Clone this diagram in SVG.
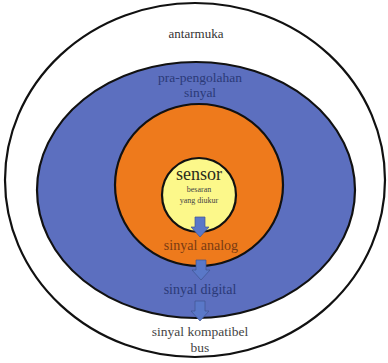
<svg xmlns="http://www.w3.org/2000/svg" width="388" height="363" viewBox="0 0 388 363">
<style>
.ring{stroke:#111;stroke-width:2.2}
text{font-family:'Liberation Serif','Times New Roman','DejaVu Serif',serif;text-anchor:middle}
.arr{fill:#5a78c8;stroke:#3f5590;stroke-width:0.7}
</style>
<defs>
<path id="arrow" d="M-5,0 H5 V10 H9 L0,20 L-9,10 H-5 Z"/>
</defs>
<rect width="388" height="363" fill="#fff"/>
<g id="antarmuka">
<ellipse class="ring" cx="195" cy="180" rx="190" ry="177" fill="#fff"/>
<text x="196" y="38" font-size="13" fill="#333" font-family="Liberation Serif, serif">antarmuka</text>
</g>
<g id="pra-pengolahan">
<ellipse class="ring" cx="196" cy="190" rx="159" ry="128" fill="#5c6fbf"/>
<text x="200" y="82" font-size="13.5" fill="#2b3a78" font-family="Liberation Serif, serif">pra-pengolahan</text>
<text x="200" y="97" font-size="13.5" fill="#2b3a78" font-family="Liberation Serif, serif">sinyal</text>
</g>
<g id="analog">
<ellipse class="ring" cx="199" cy="185" rx="84" ry="81" fill="#ee7a1c"/>
</g>
<g id="sensor">
<circle class="ring" cx="199" cy="195" r="37" fill="#fcf88a"/>
<text x="199" y="180" font-size="18" fill="#2a2a1a" font-family="Liberation Serif, serif">sensor</text>
<text x="199" y="192" font-size="8" fill="#444" font-family="Liberation Serif, serif">besaran</text>
<text x="199" y="203" font-size="8" fill="#444" font-family="Liberation Serif, serif">yang diukur</text>
</g>
<g id="connectors">
<use href="#arrow" class="arr" x="200" y="217"/>
<use href="#arrow" class="arr" x="201" y="260"/>
<use href="#arrow" class="arr" x="200" y="301"/>
</g>
<g id="labels">
<text x="201" y="250" font-size="14" fill="#7a3a12" font-family="Liberation Serif, serif">sinyal analog</text>
<text x="200" y="294" font-size="14" fill="#2b3a78" font-family="Liberation Serif, serif">sinyal digital</text>
<text x="200" y="336" font-size="13.5" fill="#444" font-family="Liberation Serif, serif">sinyal kompatibel</text>
<text x="200" y="352" font-size="13.5" fill="#444" font-family="Liberation Serif, serif">bus</text>
</g>
</svg>
